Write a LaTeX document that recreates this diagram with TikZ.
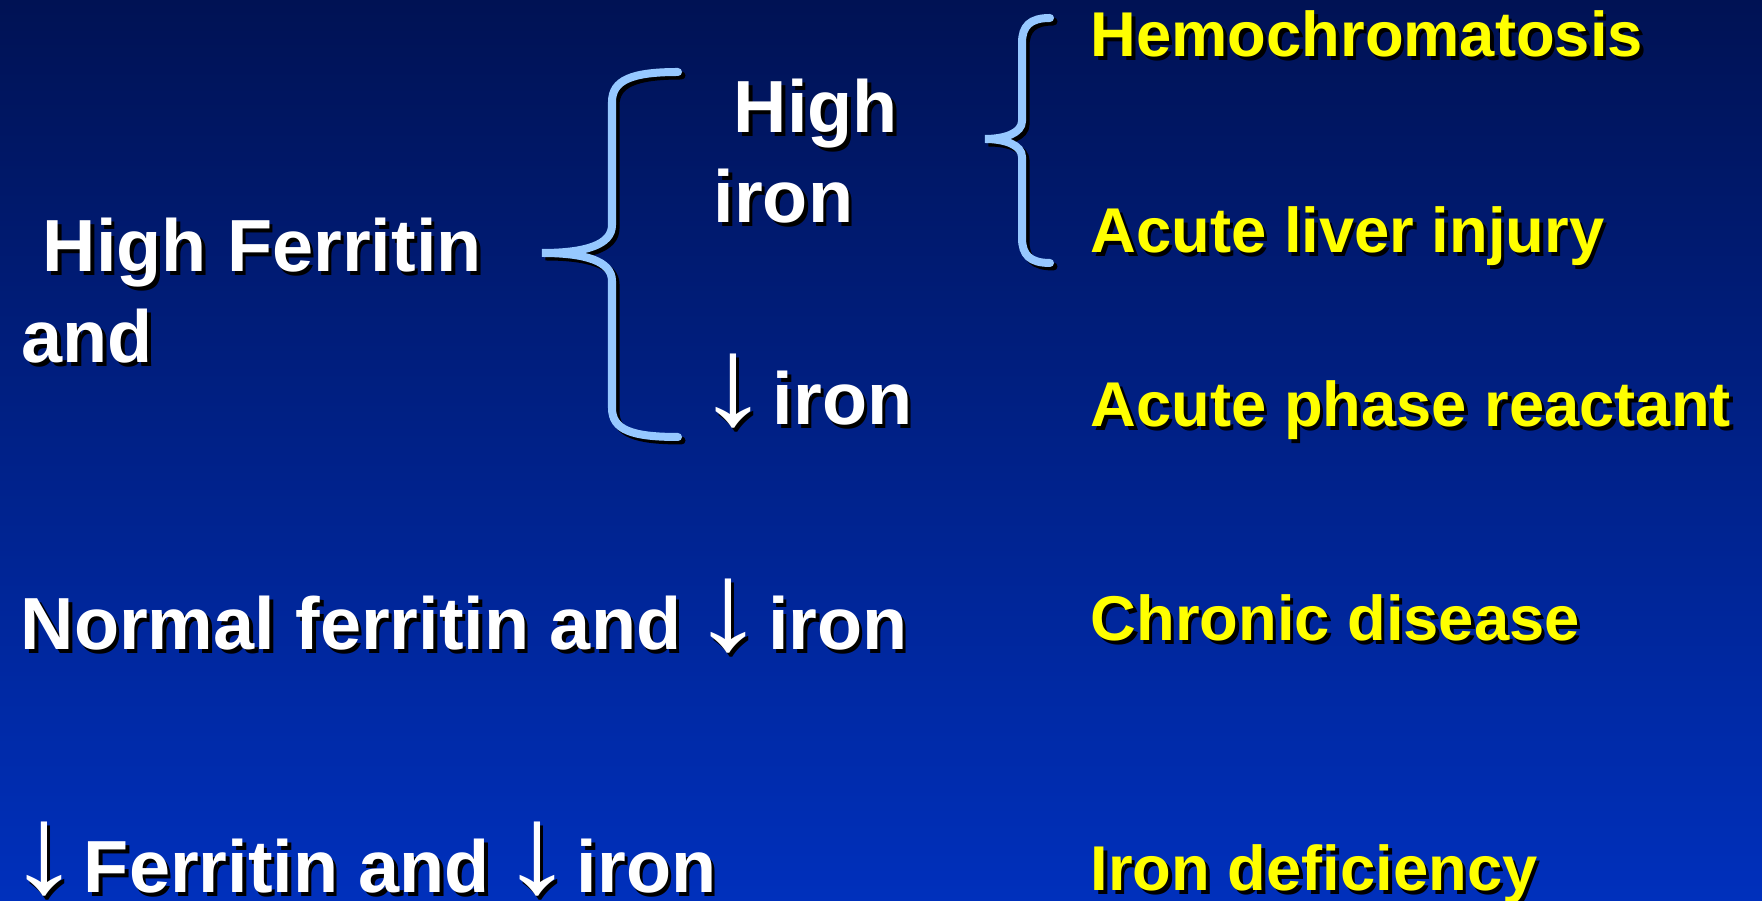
\documentclass[tikz,border=0pt]{standalone}
\usepackage{fontspec}
\setmainfont{Liberation Sans}
\newfontfamily\arrowfont{Liberation Sans}
\usepackage{tikz}
\usetikzlibrary{positioning}
\definecolor{navytop}{RGB}{0,18,84}
\definecolor{navybot}{RGB}{0,48,188}
\definecolor{bracelt}{RGB}{150,200,255}
\definecolor{hiyellow}{RGB}{255,255,0}
% text with a black drop shadow
\newcommand{\shd}[1]{\leavevmode\rlap{\kern1pt\raisebox{-1pt}{\color{black}#1}}#1}
\newcommand{\dn}{{\arrowfont\mdseries\kern-3pt\scalebox{2}[1.7]{\symbol{"2193}}\kern-5pt}}

\begin{document}
\begin{tikzpicture}[
  x=0.01cm, y=-0.01cm,
  wlbl/.style={anchor=base west, inner sep=0pt, text=white,
               font=\fontsize{21}{25}\selectfont\bfseries},
  ylbl/.style={anchor=base west, inner sep=0pt, text=hiyellow,
               font=\fontsize{18}{22}\selectfont\bfseries},
  brc/.style={line width=0.08cm, line cap=round}
]
%% ---------- BACKGROUND ----------
\shade[top color=navytop, bottom color=navybot] (0,0) rectangle (1762,901);
\useasboundingbox (0,0) rectangle (1762,901);

%% ---------- LEFT COLUMN ----------
\node[wlbl] (hf)    at (42,272)  {\shd{High Ferritin}};
\node[wlbl] (hfand) at (21,363)  {\shd{and}};
\node[wlbl] (nf)    at (20,650)  {\shd{Normal ferritin and \dn\ iron}};
\node[wlbl] (lf)    at (17,893)  {\shd{\dn\ Ferritin and \dn\ iron}};

%% ---------- MIDDLE COLUMN ----------
\node[wlbl] (hi)    at (733,133) {\shd{High}};
\node[wlbl] (hiron) at (713,223) {\shd{iron}};
\node[wlbl] (liron) at (706,425) {\shd{\dn\ iron}};

%% ---------- RIGHT COLUMN ----------
\node[ylbl] (hemo)  at (1090,57)  {\shd{Hemochromatosis}};
\node[ylbl] (liver) at (1090,253) {\shd{Acute liver injury}};
\node[ylbl] (apr)   at (1090,427) {\shd{Acute phase reactant}};
\node[ylbl] (chron) at (1090,641) {\shd{Chronic disease}};
\node[ylbl] (idef)  at (1090,891) {\shd{Iron deficiency}};

%% ---------- BRACES (shadow first) ----------
\foreach \sh/\col in {0.035cm/black, 0cm/bracelt}{
  \draw[brc, draw=\col, xshift=\sh, yshift=-\sh]
    (678,72) .. controls (632,72) and (612,80) .. (612,102) -- (612,225)
    .. controls (612,245) and (585,253) .. (542,253)
    .. controls (585,253) and (612,261) .. (612,281) -- (612,408)
    .. controls (612,430) and (632,437) .. (678,437);
  \draw[brc, draw=\col, xshift=\sh, yshift=-\sh]
    (1050,18) .. controls (1030,18) and (1022,26) .. (1022,43) -- (1022,121)
    .. controls (1022,133) and (1005,139) .. (985,139)
    .. controls (1005,139) and (1022,145) .. (1022,157) -- (1022,238)
    .. controls (1022,255) and (1030,263) .. (1050,263);
}
\end{tikzpicture}
\end{document}
